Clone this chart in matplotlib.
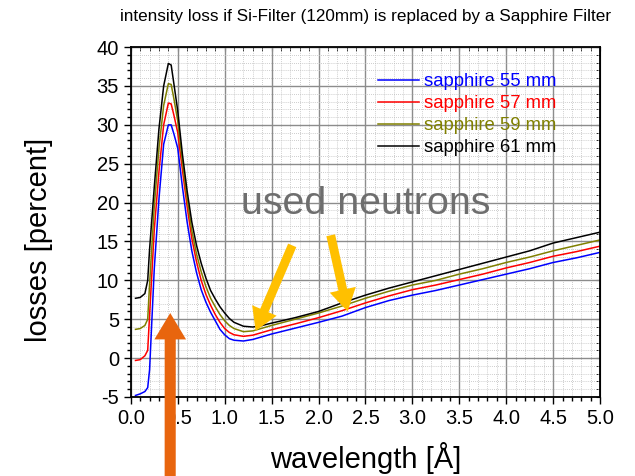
import numpy as np
import matplotlib.pyplot as plt
from matplotlib.ticker import MultipleLocator

# wavelength grid [A]
wl = [0.05, 0.10, 0.15, 0.18, 0.20, 0.25, 0.30, 0.35, 0.40, 0.43, 0.46, 0.50,
      0.55, 0.60, 0.65, 0.70, 0.75, 0.80, 0.85, 0.90, 0.95, 1.00, 1.05, 1.10,
      1.20, 1.30, 1.40, 1.50, 1.75, 2.00, 2.25, 2.50, 2.75, 3.00, 3.25, 3.50,
      3.75, 4.00, 4.25, 4.50, 4.75, 5.00]

loss55 = [-4.8, -4.6, -4.3, -3.8, -1.5, 11.5, 20.5, 27.5, 30.0, 30.0, 28.8, 27.0,
          22.0, 17.5, 13.8, 11.0, 8.8, 7.2, 5.9, 4.8, 3.7, 3.0, 2.5, 2.3,
          2.2, 2.4, 2.75, 3.1, 3.85, 4.6, 5.4, 6.5, 7.4, 8.1, 8.7, 9.4,
          10.1, 10.8, 11.5, 12.3, 12.9, 13.6]
loss57 = [-0.3, -0.2, 0.3, 1.0, 5.5, 16.5, 24.0, 30.0, 32.8, 32.7, 31.2, 29.0,
          24.2, 19.5, 15.4, 12.4, 10.0, 8.2, 6.8, 5.6, 4.6, 3.8, 3.3, 3.0,
          2.8, 2.95, 3.3, 3.65, 4.4, 5.2, 6.1, 7.1, 8.0, 8.8, 9.4, 10.1,
          10.8, 11.6, 12.3, 13.1, 13.7, 14.4]
loss59 = [3.7, 3.8, 4.2, 5.0, 9.5, 19.5, 27.0, 32.5, 35.3, 35.2, 33.3, 30.5,
          25.2, 20.5, 16.4, 13.4, 11.1, 9.2, 7.7, 6.6, 5.6, 4.8, 4.2, 3.8,
          3.4, 3.5, 3.85, 4.2, 5.0, 5.8, 6.7, 7.7, 8.6, 9.4, 10.0, 10.8,
          11.5, 12.3, 13.0, 13.8, 14.5, 15.2]
loss61 = [7.7, 7.8, 8.3, 10.0, 14.0, 22.0, 29.5, 35.0, 37.9, 37.7, 35.2, 31.8,
          26.2, 21.5, 17.5, 14.5, 12.2, 10.3, 8.7, 7.6, 6.6, 5.8, 5.1, 4.6,
          4.1, 4.0, 4.2, 4.5, 5.2, 6.0, 7.1, 8.1, 9.0, 9.8, 10.6, 11.4,
          12.2, 13.0, 13.8, 14.8, 15.5, 16.2]

labels = ['sapphire 55 mm', 'sapphire 57 mm', 'sapphire 59 mm', 'sapphire 61 mm']
colors = ['#0000FF', '#FF0000', '#808000', '#000000']

plt.rcParams['font.family'] = ['Liberation Sans', 'DejaVu Sans']
plt.rcParams['axes.unicode_minus'] = False

fig = plt.figure(figsize=(6.35, 4.76), dpi=100)
ax = fig.add_axes([0.206, 0.166, 0.739, 0.735])

for y, lab, c in zip([loss55, loss57, loss59, loss61], labels, colors):
    ax.plot(wl, y, color=c, lw=1.1, label=lab)

ax.set_xlim(0, 5)
ax.set_ylim(-5, 40)
ax.xaxis.set_major_locator(MultipleLocator(0.5))
ax.xaxis.set_minor_locator(MultipleLocator(0.1))
ax.yaxis.set_major_locator(MultipleLocator(5))
ax.yaxis.set_minor_locator(MultipleLocator(1))
ax.xaxis.set_major_formatter(plt.FormatStrFormatter('%.1f'))
ax.grid(which='major', color='#8c8c8c', lw=1.0)
ax.grid(which='minor', color='#bdbdbd', lw=0.6, linestyle=(0, (1, 1.5)))
ax.set_axisbelow(True)
ax.tick_params(which='major', direction='out', length=5, width=1, labelsize=14.5)
ax.tick_params(which='minor', direction='out', length=3, width=1)
for s in ax.spines.values():
    s.set_linewidth(1.3)

top = ax.secondary_xaxis('top')
top.xaxis.set_major_locator(MultipleLocator(0.5))
top.xaxis.set_minor_locator(MultipleLocator(0.1))
top.tick_params(which='both', direction='in', labeltop=False, length=3)
right = ax.secondary_yaxis('right')
right.yaxis.set_major_locator(MultipleLocator(5))
right.yaxis.set_minor_locator(MultipleLocator(1))
right.tick_params(which='both', direction='in', labelright=False, length=3)

ax.set_xlabel('wavelength [Å]', fontsize=21, va='center')
ax.xaxis.set_label_coords(0.5, -0.174)
ax.set_ylabel('losses [percent]', fontsize=21, va='center')
ax.yaxis.set_label_coords(-0.195, 0.45)
fig.text(0.576, 0.965, 'intensity loss if Si-Filter (120mm) is replaced by a Sapphire Filter',
         ha='center', va='center', fontsize=12.3)

leg = ax.legend(loc='upper left', bbox_to_anchor=(0.527, 0.925), frameon=False,
                fontsize=13.3, handlelength=2.2, handletextpad=0.27, labelspacing=0.27,
                borderpad=0, borderaxespad=0)
for t, c in zip(leg.get_texts(), colors):
    t.set_color(c)

ax.text(2.5, 19.8, 'used neutrons', fontsize=28.4, color='#6e6e6e', ha='center', va='center')

yellow = '#FFC000'
for start, end in [((1.72, 14.5), (1.33, 3.5)), ((2.13, 15.8), (2.31, 6.0))]:
    ax.annotate('', xy=end, xytext=start,
                arrowprops=dict(arrowstyle='simple,head_length=1.0,head_width=1.2,tail_width=0.4',
                                mutation_scale=16, color=yellow, lw=0, shrinkA=0, shrinkB=0))

ax.annotate('', xy=(0.42, 5.8), xycoords='data',
            xytext=(0.268, -0.01), textcoords='figure fraction',
            arrowprops=dict(arrowstyle='simple,head_length=1.0,head_width=1.2,tail_width=0.42',
                            mutation_scale=19, color='#E8650E', lw=0, shrinkA=0, shrinkB=0),
            annotation_clip=False)

fig.savefig('out.png', dpi=100)
